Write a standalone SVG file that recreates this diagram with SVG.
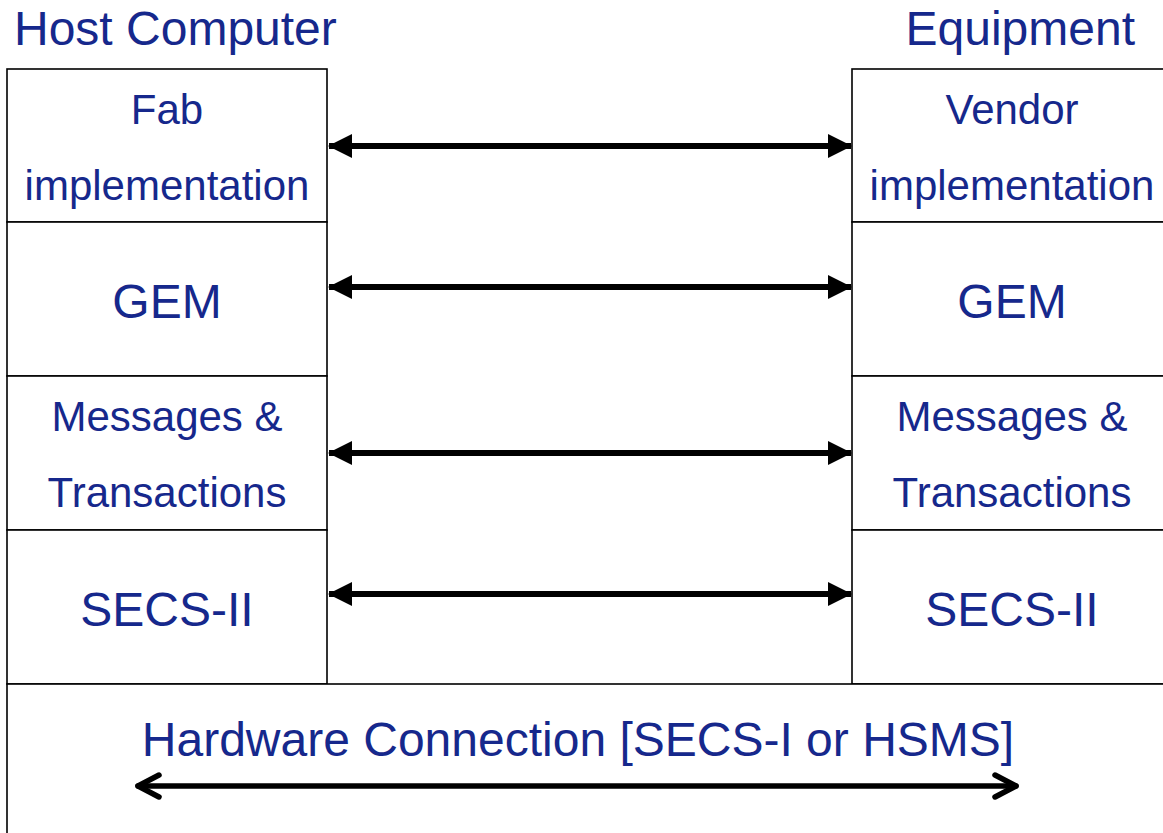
<svg xmlns="http://www.w3.org/2000/svg" width="1163" height="833" viewBox="0 0 1163 833">
  <style>
    .box { fill: #ffffff; stroke: #000000; stroke-width: 1.6; }
    .lbl { font-family: "Liberation Sans", Arial, sans-serif; fill: #16288c; text-anchor: middle; }
    .head { font-family: "Liberation Sans", Arial, sans-serif; fill: #16288c; font-size: 48px; }
    .s42 { font-size: 42px; }
    .s48 { font-size: 48px; }
    .link { stroke: #000000; stroke-width: 6; fill: none; }
    .hw { stroke: #000000; stroke-width: 5.5; fill: none; stroke-linecap: round; stroke-linejoin: round; }
  </style>
  <defs>
    <marker id="tri" viewBox="0 0 24 24" refX="23" refY="12" markerWidth="24" markerHeight="24" markerUnits="userSpaceOnUse" orient="auto-start-reverse">
      <path d="M0,0 L24,12 L0,24 Z" fill="#000000"/>
    </marker>
  </defs>

  <rect width="1163" height="833" fill="#ffffff"/>

  <!-- column titles -->
  <text class="head" x="14" y="45">Host Computer</text>
  <text class="head" x="1135" y="45" text-anchor="end">Equipment</text>

  <!-- host stack -->
  <g id="host-fab">
    <rect class="box" x="7" y="69" width="320" height="153"/>
    <text class="lbl s42" x="167" y="124">Fab</text>
    <text class="lbl s42" x="167" y="200">implementation</text>
  </g>
  <g id="host-gem">
    <rect class="box" x="7" y="222" width="320" height="154"/>
    <text class="lbl s48" x="167" y="318">GEM</text>
  </g>
  <g id="host-msg">
    <rect class="box" x="7" y="376" width="320" height="154"/>
    <text class="lbl s42" x="167" y="431">Messages &amp;</text>
    <text class="lbl s42" x="167" y="507">Transactions</text>
  </g>
  <g id="host-secs">
    <rect class="box" x="7" y="530" width="320" height="154"/>
    <text class="lbl s48" x="167" y="626">SECS-II</text>
  </g>

  <!-- equipment stack -->
  <g id="eq-vendor">
    <rect class="box" x="852" y="69" width="320" height="153"/>
    <text class="lbl s42" x="1012" y="124">Vendor</text>
    <text class="lbl s42" x="1012" y="200">implementation</text>
  </g>
  <g id="eq-gem">
    <rect class="box" x="852" y="222" width="320" height="154"/>
    <text class="lbl s48" x="1012" y="318">GEM</text>
  </g>
  <g id="eq-msg">
    <rect class="box" x="852" y="376" width="320" height="154"/>
    <text class="lbl s42" x="1012" y="431">Messages &amp;</text>
    <text class="lbl s42" x="1012" y="507">Transactions</text>
  </g>
  <g id="eq-secs">
    <rect class="box" x="852" y="530" width="320" height="154"/>
    <text class="lbl s48" x="1012" y="626">SECS-II</text>
  </g>

  <!-- shared hardware layer -->
  <g id="hardware">
    <rect class="box" x="7" y="684" width="1170" height="160" stroke-width="2.2"/>
    <text class="lbl s48" x="578" y="756">Hardware Connection [SECS-I or HSMS]</text>
  </g>

  <!-- peer-to-peer links -->
  <g id="connectors">
    <line class="link" x1="329" y1="146" x2="851" y2="146" marker-start="url(#tri)" marker-end="url(#tri)"/>
    <line class="link" x1="329" y1="287" x2="851" y2="287" marker-start="url(#tri)" marker-end="url(#tri)"/>
    <line class="link" x1="329" y1="453" x2="851" y2="453" marker-start="url(#tri)" marker-end="url(#tri)"/>
    <line class="link" x1="329" y1="594" x2="851" y2="594" marker-start="url(#tri)" marker-end="url(#tri)"/>
    <path class="hw" d="M138,786 L1016,786"/>
    <path class="hw" d="M159,775 L138,786 L159,797"/>
    <path class="hw" d="M995,775 L1016,786 L995,797"/>
  </g>
</svg>
